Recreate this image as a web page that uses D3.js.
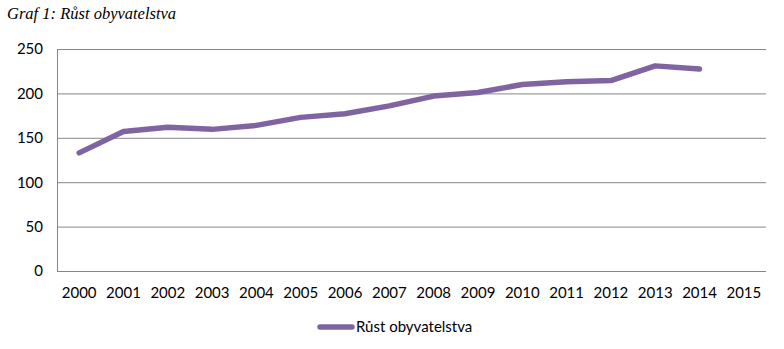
<!DOCTYPE html>
<html><head><meta charset="utf-8">
<script src="https://cdn.jsdelivr.net/npm/d3@7"></script>
<style>body{margin:0;background:#fff}svg{display:block}</style>
</head><body>
<script>
const years = ["2000","2001","2002","2003","2004","2005","2006","2007","2008","2009","2010","2011","2012","2013","2014","2015"];
const values = [133,157,162,159.5,164,173,177,186,197,201,210,213,214.5,231,227.5,null];
const yTicks = [0,50,100,150,200,250];
const seriesName = "Růst obyvatelstva";
const title = "Graf 1: Růst obyvatelstva";

const W=784,H=349;
const svg=d3.select("body").append("svg").attr("width",W).attr("height",H);
const m={l:57,r:766,t:49,b:271};
const x=d3.scaleBand().domain(years).range([m.l,m.r]);
const y=d3.scaleLinear().domain([0,250]).range([m.b,m.t]);
const font="Lato, 'Open Sans', sans-serif";

svg.append("text").attr("x",7).attr("y",19).text(title)
  .attr("font-family","'Liberation Serif', serif").attr("font-style","italic").attr("font-size",16.5).attr("fill","#000");

const ya=svg.append("g").attr("transform",`translate(${m.l},0)`)
  .call(d3.axisLeft(y).tickValues(yTicks).tickSize(-(m.r-m.l)).tickPadding(14).tickFormat(d3.format("d")));
ya.select(".domain").remove();
ya.selectAll("line").attr("stroke","#868686").attr("stroke-width",1);
ya.selectAll("text").attr("font-family",font).attr("font-size",15).attr("fill","#000");
svg.append("line").attr("x1",m.l+0.5).attr("x2",m.l+0.5).attr("y1",m.t).attr("y2",m.b).attr("stroke","#868686");

const xa=svg.append("g").attr("transform",`translate(0,${m.b})`)
  .call(d3.axisBottom(x).tickSize(0).tickPadding(16));
xa.select(".domain").remove();
xa.selectAll("text").attr("font-family",font).attr("font-size",15).attr("fill","#000");

const line=d3.line().defined(d=>d[1]!=null).x(d=>x(d[0])+x.bandwidth()/2).y(d=>y(d[1]));
svg.append("path").datum(years.map((yr,i)=>[yr,values[i]]))
  .attr("d",line).attr("fill","none").attr("stroke","#8064A2").attr("stroke-width",5.5)
  .attr("stroke-linecap","round").attr("stroke-linejoin","round");

const lg=svg.append("g");
lg.append("line").attr("x1",320).attr("x2",352).attr("y1",327).attr("y2",327)
  .attr("stroke","#8064A2").attr("stroke-width",5.5).attr("stroke-linecap","round");
lg.append("text").attr("x",356).attr("y",332).text(seriesName)
  .attr("font-family",font).attr("font-size",15).attr("fill","#000");
</script>
</body></html>
